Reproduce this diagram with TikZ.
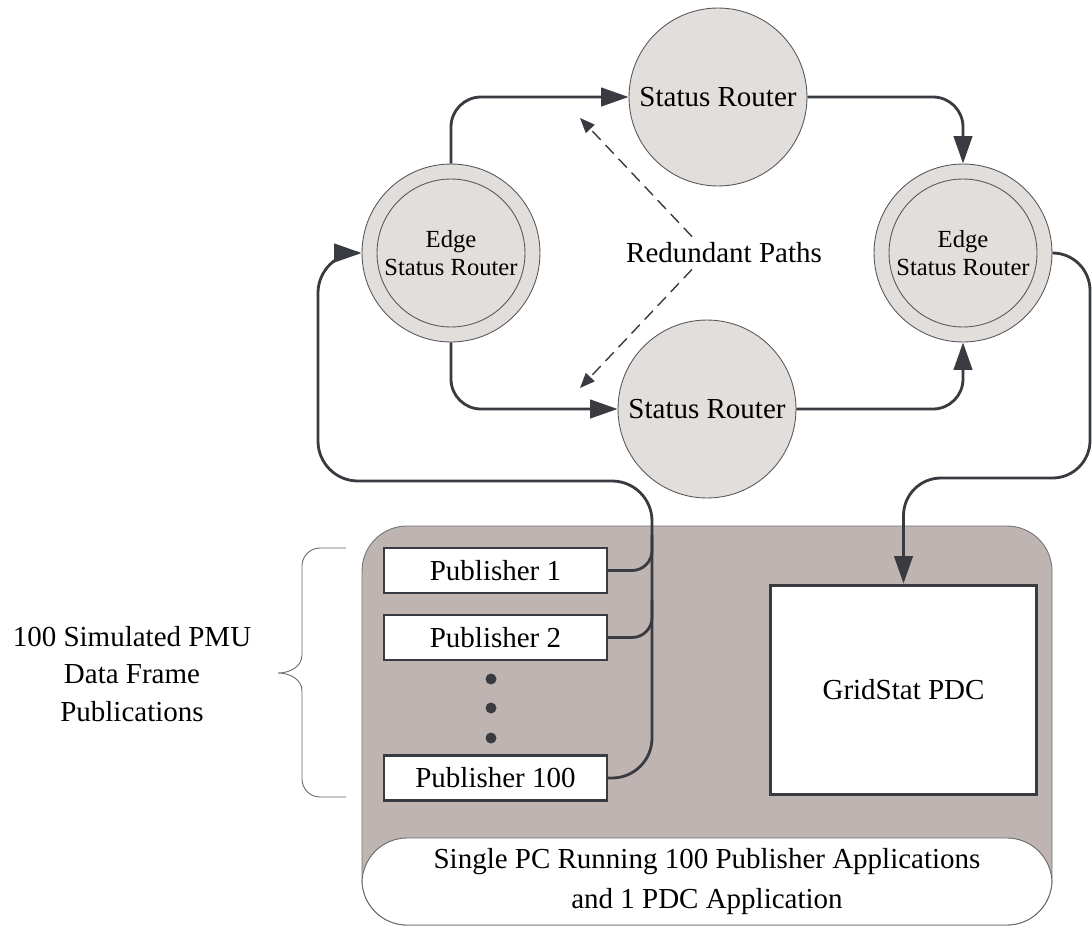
\documentclass[tikz,border=0pt]{standalone}
\usepackage{fontspec}
\setmainfont{Liberation Serif}
\usetikzlibrary{arrows.meta,calc}
\definecolor{routerfill}{HTML}{E2DEDB}
\definecolor{pcfill}{HTML}{BEB5B2}
\definecolor{wire}{HTML}{3A3B40}
\def\bigfont{\fontsize{16.5}{21.5}\selectfont}
\tikzset{
	router/.style={circle, draw=wire!85, line width=0.5pt, fill=routerfill, minimum size=3.56cm, inner sep=0pt, align=center, font=\bigfont},
	edgerouter/.style={router, font=\fontsize{14}{16.4}\selectfont},
	pubbox/.style={draw=wire, line width=1.3pt, fill=white, minimum width=4.46cm, minimum height=0.9cm, inner sep=0pt, font=\bigfont},
	flow/.style={draw=wire, line width=1.6pt, rounded corners=0.6cm, -{Triangle[length=0.55cm,width=0.37cm]}},
	feed/.style={draw=wire, line width=1.6pt, rounded corners=0.4cm},
	redund/.style={draw=wire, line width=0.8pt, dash pattern=on 0.24cm off 0.14cm, -{Triangle[length=0.3cm,width=0.24cm]}}
}

\begin{document}
\begin{tikzpicture}[x=0.02cm, y=-0.02cm]
			%%%%% START %%%%%
			\useasboundingbox (0, 0) rectangle (1092, 927);
			
			% the PC
			\draw[fill=pcfill, draw=black!55, line width=0.5pt, rounded corners=0.9cm] (362, 526) rectangle (1052, 925);
			\node[draw=black!60, line width=0.5pt, fill=white, rounded corners=0.9cm, minimum width=13.8cm, minimum height=1.74cm, align=center, font=\fontsize{16.5}{23}\selectfont] (pcLabel) at (707, 881.5) {Single PC Running 100 Publisher Applications\\and 1 PDC Application};
			
			% routers
			\node[router] (srTop) at (718, 97) {Status Router};
			\node[router] (srBot) at (707, 409) {Status Router};
			\node[edgerouter] (edgeL) at (451, 253) {Edge\\Status Router};
			\node[edgerouter] (edgeR) at (963, 253) {Edge\\Status Router};
			\draw[draw=wire!85, line width=0.5pt] (edgeL) circle (1.48cm);
			\draw[draw=wire!85, line width=0.5pt] (edgeR) circle (1.48cm);
			
			\node[font=\bigfont] (paths) at (724, 253) {Redundant Paths};
			\coordinate (upTip) at (580, 118);
			\coordinate (downTip) at (580, 388);
			\draw[redund] ($(paths.north)+(-32, 0)$) -- (upTip);
			\draw[redund] ($(paths.south)+(-32, 0)$) -- (downTip);
			
			% publishers and pdc
			\node[pubbox] (pub1) at (495.5, 570.5) {Publisher 1};
			\node[pubbox] (pub2) at (495.5, 637.5) {Publisher 2};
			\node[pubbox] (pub100) at (495.5, 778) {Publisher 100};
			\foreach \y in {679, 708, 738}
				\fill[wire] (491, \y) circle (0.11cm);
			\node[draw=wire, line width=1.7pt, fill=white, minimum width=5.34cm, minimum height=4.2cm, font=\bigfont] (pdc) at (903.5, 690) {GridStat PDC};
			
			% connectors
			\draw[flow] (edgeL.north) |- (srTop.west);
			\draw[flow] (edgeL.south) |- (srBot.west);
			\draw[flow] (srTop.east) -| (edgeR.north);
			\draw[flow] (srBot.east) -| (edgeR.south);
			\draw[flow, rounded corners=0.75cm] (edgeR.east) -| (1090, 478) -| (pdc.north);
			
			\draw[feed] (pub1.east) -| (652, 535);
			\draw[feed] (pub2.east) -| (652, 600);
			\draw[flow, rounded corners=0.8cm] (pub100.east) -| (652, 481) -- (318, 481) |- (edgeL.west);
			
			% brace and its note
			\draw[draw=black!60, line width=0.5pt] (346, 548) -- (320, 548) to[out=180, in=90] (302, 566) -- (302, 655) to[out=-90, in=0] (278, 673) to[out=0, in=90] (302, 691) -- (302, 779) to[out=-90, in=180] (320, 797) -- (346, 797);
			\node[align=center, font=\bigfont] (pmuNote) at (132, 674) {100 Simulated PMU\\Data Frame\\Publications};
			
			%%%%% END %%%%%
\end{tikzpicture}
\end{document}
